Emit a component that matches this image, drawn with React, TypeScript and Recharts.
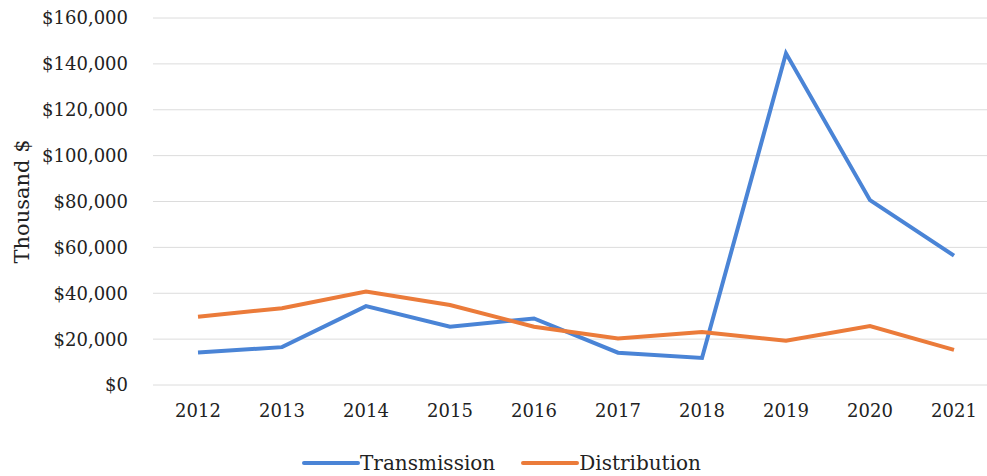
import React from 'react';
import { LineChart, Line, XAxis, YAxis, CartesianGrid, Legend, Label } from 'recharts';

const years = ['2012', '2013', '2014', '2015', '2016', '2017', '2018', '2019', '2020', '2021'];
const transmission = [14200, 16500, 34400, 25400, 29000, 14100, 11800, 144600, 80600, 56400];
const distribution = [29800, 33500, 40700, 34900, 25400, 20300, 23100, 19300, 25700, 15300];
const yTicks = [0, 20000, 40000, 60000, 80000, 100000, 120000, 140000, 160000];

const BLUE = '#4A84D6';
const ORANGE = '#EB7B3A';
const FONT = '"DejaVu Serif", serif';

const data = years.map((year, i) => ({
    year,
    Transmission: transmission[i],
    Distribution: distribution[i],
}));

const money = (v: number) => '$' + v.toLocaleString('en-US');

const LegendContent = () => (
    <div style={{ display: 'flex', justifyContent: 'center', alignItems: 'center', height: 41, paddingTop: 14, paddingLeft: 16, boxSizing: 'border-box', fontFamily: FONT, fontSize: 20, color: '#222' }}>
        {[['Transmission', BLUE], ['Distribution', ORANGE]].map(([name, color], i) => (
            <div key={name} style={{ display: 'flex', alignItems: 'center', marginLeft: i ? 26 : 0 }}>
                <span style={{ display: 'inline-block', width: 58, height: 4, borderRadius: 2, background: color }} />
                <span style={{ lineHeight: '24px' }}>{name}</span>
            </div>
        ))}
    </div>
);

export default function App() {
    return (
        <div style={{ position: 'absolute', left: 0, top: 0, width: 987, height: 476, background: '#fff' }}>
            <LineChart width={987} height={476} data={data} margin={{ top: 18, right: 0, bottom: 0, left: 0 }}>
                <CartesianGrid vertical={false} stroke="#dcdcdc" strokeWidth={1} />
                <XAxis
                    dataKey="year"
                    axisLine={false}
                    tickLine={false}
                    tickSize={0}
                    tickMargin={19}
                    height={50}
                    padding={{ left: 45, right: 33 }}
                    tick={{ fill: '#222', fontSize: 18, fontFamily: FONT }}
                />
                <YAxis
                    width={153}
                    domain={[0, 160000]}
                    ticks={yTicks}
                    tickFormatter={money}
                    axisLine={false}
                    tickLine={false}
                    tickSize={0}
                    tickMargin={25}
                    tick={{ fill: '#222', fontSize: 18, fontFamily: FONT }}
                >
                    <Label
                        content={({ viewBox }: any) => {
                            const cy = viewBox.y + viewBox.height / 2;
                            return (
                                <text x={22} y={cy} transform={`rotate(-90, 22, ${cy})`} textAnchor="middle" dominantBaseline="central" fontFamily={FONT} fontSize={21} fill="#222">
                                    Thousand $
                                </text>
                            );
                        }}
                    />
                </YAxis>
                <Legend verticalAlign="bottom" content={<LegendContent />} wrapperStyle={{ left: 0, width: 987 }} />
                <Line type="linear" dataKey="Transmission" stroke={BLUE} strokeWidth={4} dot={false} isAnimationActive={false} />
                <Line type="linear" dataKey="Distribution" stroke={ORANGE} strokeWidth={4} dot={false} isAnimationActive={false} />
            </LineChart>
        </div>
    );
}
